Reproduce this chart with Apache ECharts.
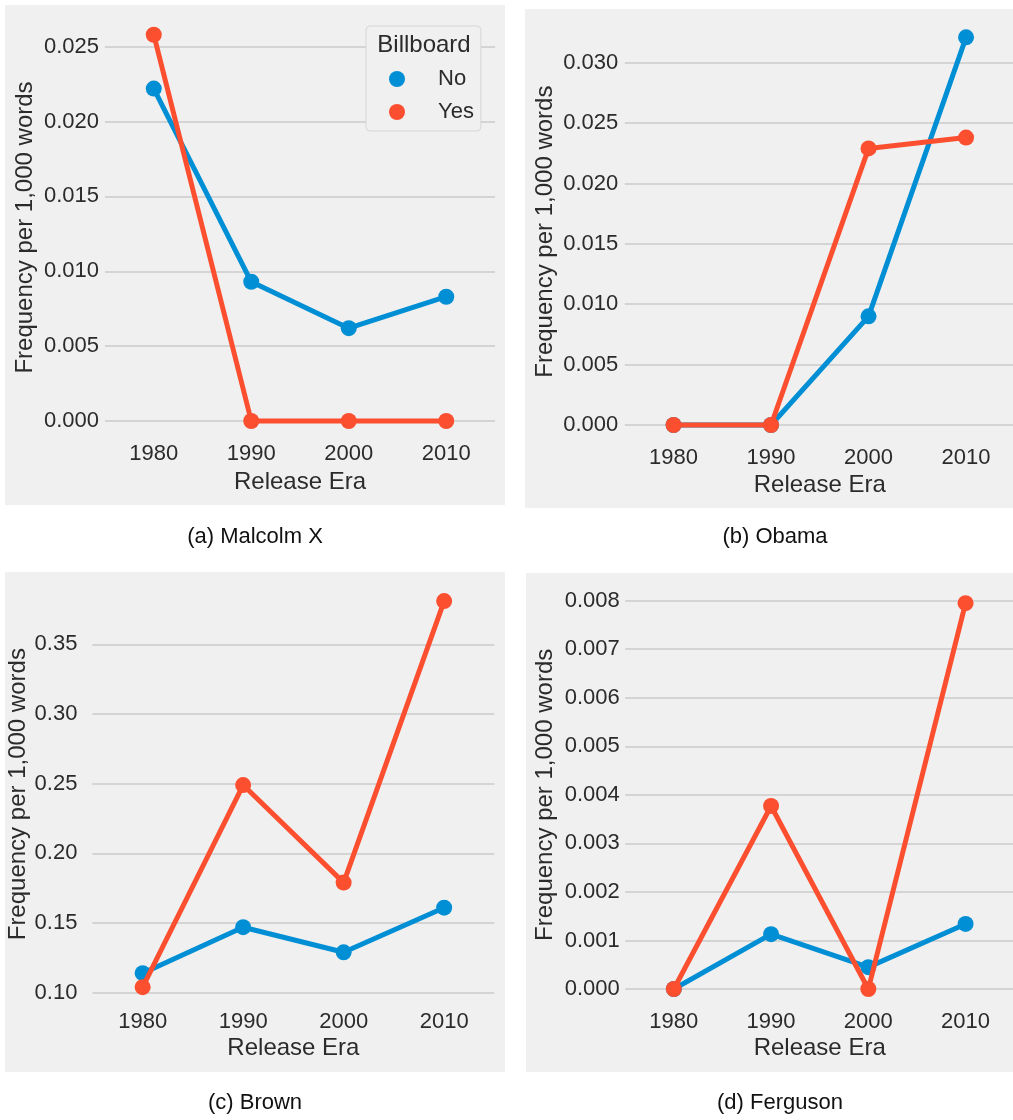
<!DOCTYPE html>
<html>
<head>
<meta charset="utf-8">
<script src="https://cdn.jsdelivr.net/npm/echarts@6/dist/echarts.min.js"></script>
<style>
  html, body { margin: 0; padding: 0; background: #ffffff; }
  #chart { width: 1013px; height: 1120px; }
</style>
</head>
<body>
<div id="chart"></div>
<script>
// Release eras on the x axis
const eras = ['1980', '1990', '2000', '2010'];
const billboardGroups = ['No', 'Yes'];

// Frequency per 1,000 words, by era
const malcolmNo = [0.0222, 0.0093, 0.0062, 0.0083];
const malcolmYes = [0.0258, 0.0, 0.0, 0.0];
const obamaNo = [0.0, 0.0, 0.0090, 0.0321];
const obamaYes = [0.0, 0.0, 0.0229, 0.0238];
const brownNo = [0.114, 0.147, 0.129, 0.161];
const brownYes = [0.104, 0.249, 0.179, 0.381];
const fergusonNo = [0.0, 0.00113, 0.00045, 0.00134];
const fergusonYes = [0.0, 0.00377, 0.0, 0.00795];

// y tick ranges: [first tick, last tick, step, decimals]
const ticksMalcolm = [0, 0.025, 0.005, 3];
const ticksObama = [0, 0.030, 0.005, 3];
const ticksBrown = [0.10, 0.35, 0.05, 2];
const ticksFerguson = [0, 0.008, 0.001, 3];

const captions = ['(a) Malcolm X', '(b) Obama', '(c) Brown', '(d) Ferguson'];
const xTitle = 'Release Era';
const yTitle = 'Frequency per 1,000 words';
const legendTitle = 'Billboard';

const BLUE = '#008fd5';
const RED = '#fc4f30';
const BG = '#f0f0f0';
const GRIDLINE = '#cbcbcb';
const TEXT = '#2b2b2b';
const FONT = '"Liberation Sans", Arial, Helvetica, sans-serif';

const panels = [
  { no: malcolmNo, yes: malcolmYes, ticks: ticksMalcolm,
    grid: { left: 105, top: 46.7, width: 390, height: 374.3 },
    bg: [5, 5, 500, 500], labelMargin: 22, xNameGap: 49, yLabelMargin: 6, yNameGap: 68, yNamePad: 12.7,
    caption: [255, 537] },
  { no: obamaNo, yes: obamaYes, ticks: ticksObama,
    grid: { left: 624.8, top: 62.7, width: 390, height: 362.3 },
    bg: [525, 9, 488, 499], labelMargin: 22, xNameGap: 48.5, yLabelMargin: 6.5, yNameGap: 67.6, yNamePad: 24.4,
    caption: [775, 537] },
  { no: brownNo, yes: brownYes, ticks: ticksBrown,
    grid: { left: 92.4, top: 644.3, width: 402, height: 348.4 },
    bg: [5, 572, 500, 500], labelMargin: 18, xNameGap: 44, yLabelMargin: 15, yNameGap: 55.5, yNamePad: 48.6,
    caption: [255, 1103] },
  { no: fergusonNo, yes: fergusonYes, ticks: ticksFerguson,
    grid: { left: 625.2, top: 600.7, width: 389, height: 388.3 },
    bg: [526, 573, 487, 499], labelMargin: 21.7, xNameGap: 47.7, yLabelMargin: 5.5, yNameGap: 67.6, yNamePad: 0,
    caption: [780, 1103] }
];

const grids = [], xAxes = [], yAxes = [], series = [], graphics = [];

panels.forEach((p, i) => {
  graphics.push({
    type: 'rect', z: -10, silent: true,
    shape: { x: p.bg[0], y: p.bg[1], width: p.bg[2], height: p.bg[3] },
    style: { fill: BG }
  });
  graphics.push({
    type: 'text', silent: true,
    x: p.caption[0], y: p.caption[1],
    style: { text: captions[i], fill: '#111111', font: '22px ' + FONT, textAlign: 'center', textVerticalAlign: 'middle' }
  });

  grids.push(Object.assign({ outerBoundsMode: 'none', containLabel: false, show: false }, p.grid));

  xAxes.push({
    type: 'category', gridIndex: i, data: eras, boundaryGap: true,
    axisLine: { show: false }, axisTick: { show: false }, splitLine: { show: false },
    axisLabel: { color: TEXT, fontSize: 22, fontFamily: FONT, margin: p.labelMargin },
    name: xTitle, nameLocation: 'middle', nameGap: p.xNameGap,
    nameTextStyle: { color: TEXT, fontSize: 24, fontFamily: FONT }
  });

  const [tMin, tMax, step, dec] = p.ticks;
  yAxes.push({
    type: 'value', gridIndex: i, min: tMin, max: tMax, interval: step,
    axisLine: { show: false }, axisTick: { show: false },
    splitLine: { show: true, lineStyle: { color: GRIDLINE, width: 1.5 } },
    axisLabel: { color: TEXT, fontSize: 22, fontFamily: FONT, margin: p.yLabelMargin,
                 formatter: v => v.toFixed(dec) },
    name: yTitle, nameLocation: 'middle', nameGap: p.yNameGap, nameRotate: 90,
    nameTextStyle: { color: TEXT, fontSize: 24, fontFamily: FONT, padding: [0, 0, 0, p.yNamePad] }
  });

  [[billboardGroups[0], p.no, BLUE, 2], [billboardGroups[1], p.yes, RED, 3]].forEach(([name, data, color, z]) => {
    series.push({
      type: 'line', name: name, xAxisIndex: i, yAxisIndex: i, data: data,
      clip: false, z: z, symbol: 'circle', symbolSize: 16, showSymbol: true,
      lineStyle: { color: color, width: 5, cap: 'round', join: 'round' },
      itemStyle: { color: color },
      emphasis: { disabled: true }, silent: true
    });
  });
});

// legend heading
graphics.push({
  type: 'text', silent: true, z: 100,
  x: 424, y: 45,
  style: { text: legendTitle, fill: TEXT, font: '24px ' + FONT, textAlign: 'center', textVerticalAlign: 'middle' }
});

const chart = echarts.init(document.getElementById('chart'), null, { renderer: 'canvas' });
chart.setOption({
  animation: false,
  backgroundColor: '#ffffff',
  textStyle: { fontFamily: FONT },
  grid: grids,
  xAxis: xAxes,
  yAxis: yAxes,
  legend: {
    data: billboardGroups, orient: 'vertical', left: 366, top: 26,
    icon: 'circle', itemWidth: 16, itemHeight: 16, itemGap: 11,
    padding: [42, 7, 8, 23],
    backgroundColor: BG, borderColor: '#d6d6d6', borderWidth: 1, borderRadius: 4,
    textStyle: { color: TEXT, fontSize: 22, fontFamily: FONT, lineHeight: 22, padding: [0, 0, 0, 28] },
    selectedMode: false, z: 50
  },
  graphic: graphics,
  series: series
});
</script>
</body>
</html>
